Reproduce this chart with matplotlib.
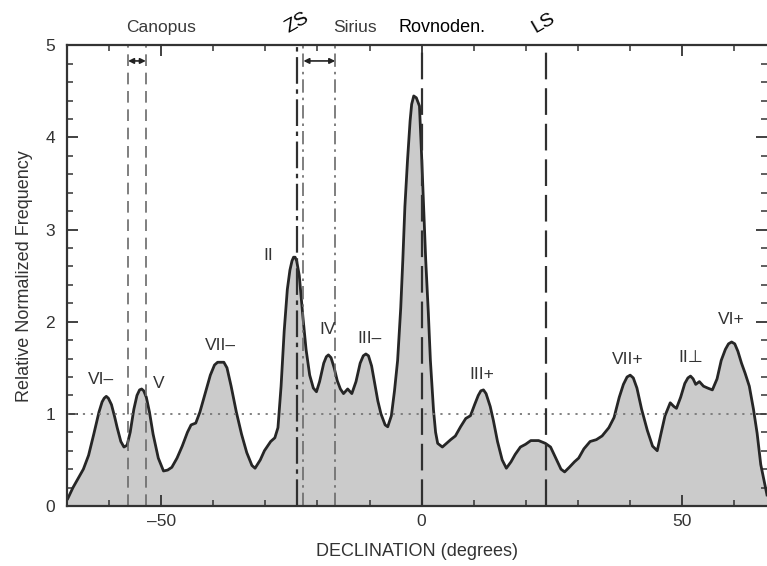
import numpy as np
import matplotlib
matplotlib.use("Agg")
import matplotlib.pyplot as plt
from matplotlib.ticker import MultipleLocator

plt.rcParams["font.family"] = ["Liberation Sans", "DejaVu Sans"]

# ==========================
# DATA
# ==========================
decl = [-68.0, -67.0, -66.0, -65.0, -64.0, -63.0, -62.0, -61.4, -61.0, -60.6,
        -60.2, -59.6, -59.0, -58.5, -57.8, -57.2, -56.6, -56.0, -55.3, -54.7,
        -54.2, -53.8, -53.4, -52.9, -52.3, -51.6, -50.6, -49.6, -48.8, -48.0,
        -47.0, -46.0, -45.0, -44.3, -43.4, -42.6, -41.6, -40.6, -39.8, -39.2,
        -38.0, -37.4, -36.6, -35.6, -34.6, -33.6, -32.6, -32.0, -31.0, -30.2,
        -29.0, -28.2, -27.6, -27.0, -26.4, -25.8, -25.3, -24.9, -24.6, -24.3,
        -24.0, -23.5, -22.8, -22.2, -21.5, -20.8, -20.2, -19.6, -18.8, -18.3,
        -17.9, -17.4, -16.8, -16.2, -15.6, -15.0, -14.2, -13.4, -12.6, -11.8,
        -11.2, -10.7, -10.2, -9.6, -9.0, -8.4, -7.8, -7.0, -6.5, -5.8,
        -5.2, -4.6, -4.0, -3.6, -3.2, -2.7, -2.2, -1.9, -1.5, -1.0,
        -0.4, 0.0, 0.4, 0.8, 1.3, 1.7, 2.3, 2.7, 3.1, 4.0,
        4.8, 5.6, 6.5, 7.5, 8.5, 9.4, 10.2, 10.9, 11.4, 11.9,
        12.4, 13.2, 13.8, 14.6, 15.5, 16.3, 17.2, 18.0, 19.0, 20.0,
        21.0, 22.5, 23.8, 24.8, 25.8, 26.8, 27.5, 28.4, 29.4, 30.2,
        31.2, 32.4, 33.6, 34.7, 36.0, 37.0, 38.0, 38.8, 39.5, 40.1,
        40.7, 41.4, 42.3, 43.4, 44.4, 45.3, 46.0, 46.8, 47.8, 48.5,
        49.0, 49.8, 50.6, 51.2, 51.7, 52.2, 52.7, 53.4, 54.2, 55.0,
        55.9, 56.8, 57.6, 58.4, 59.0, 59.6, 60.2, 60.8, 61.5, 62.2,
        63.0, 63.8, 64.5, 65.2, 66.4]
freq = [0.08, 0.20, 0.30, 0.40, 0.55, 0.78, 1.02, 1.13, 1.17, 1.19,
        1.17, 1.10, 0.97, 0.85, 0.70, 0.64, 0.66, 0.80, 1.05, 1.20,
        1.26, 1.27, 1.25, 1.18, 1.02, 0.78, 0.52, 0.38, 0.39, 0.42,
        0.52, 0.65, 0.80, 0.88, 0.90, 1.02, 1.22, 1.42, 1.53, 1.56,
        1.56, 1.50, 1.30, 1.02, 0.78, 0.58, 0.44, 0.41, 0.50, 0.60,
        0.70, 0.74, 0.85, 1.30, 1.90, 2.35, 2.56, 2.66, 2.70, 2.70,
        2.66, 2.50, 2.05, 1.70, 1.42, 1.28, 1.24, 1.35, 1.55, 1.62,
        1.64, 1.61, 1.50, 1.36, 1.27, 1.22, 1.27, 1.22, 1.35, 1.55,
        1.63, 1.65, 1.63, 1.52, 1.33, 1.14, 1.00, 0.88, 0.86, 0.98,
        1.25, 1.58, 2.15, 2.67, 3.25, 3.75, 4.18, 4.36, 4.45, 4.43,
        4.34, 3.82, 3.25, 2.67, 2.10, 1.58, 1.04, 0.80, 0.68, 0.64,
        0.68, 0.72, 0.76, 0.86, 0.95, 0.98, 1.10, 1.20, 1.25, 1.26,
        1.22, 1.08, 0.93, 0.70, 0.50, 0.41, 0.48, 0.56, 0.64, 0.67,
        0.71, 0.71, 0.68, 0.64, 0.52, 0.40, 0.37, 0.42, 0.48, 0.52,
        0.62, 0.70, 0.72, 0.76, 0.85, 0.96, 1.18, 1.32, 1.40, 1.42,
        1.39, 1.28, 1.05, 0.82, 0.65, 0.60, 0.78, 0.98, 1.12, 1.08,
        1.06, 1.18, 1.33, 1.39, 1.41, 1.38, 1.32, 1.35, 1.30, 1.28,
        1.26, 1.38, 1.58, 1.70, 1.76, 1.78, 1.76, 1.68, 1.55, 1.44,
        1.30, 1.05, 0.79, 0.45, 0.12]

peak_labels = ["VI\u2013", "V", "VII\u2013", "II", "IV", "III\u2013",
               "III+", "VII+", "II\u22a5", "VI+"]
peak_x = [-61.6, -50.5, -38.6, -29.4, -18.0, -10.0, 11.5, 39.7, 51.8, 59.5]
peak_y = [1.37, 1.33, 1.74, 2.72, 1.92, 1.82, 1.43, 1.59, 1.61, 2.02]

canopus = [-56.4, -53.0]
sirius = [-22.7, -16.6]
zs, equinox, ls = -24.0, 0.0, 24.0

# ==========================
# PLOT
# ==========================
fig = plt.figure(figsize=(7.67, 5.66), dpi=100)
ax = fig.add_axes([0.087, 0.106, 0.913, 0.814])

ax.fill_between(decl, 0, freq, color="#cbcbcb", lw=0)
ax.plot(decl, freq, color="#262626", lw=2.0, solid_joinstyle="round")

ax.axhline(1.0, color="#777777", lw=1.3, ls=(0, (1.2, 3.2)))
for x in canopus:
    ax.axvline(x, color="#6a6a6a", lw=1.2, ls=(0, (7, 4)))
for x in sirius:
    ax.axvline(x, color="#6a6a6a", lw=1.2, ls=(0, (8, 3, 1.5, 3)))
ax.axvline(zs, color="#303030", lw=1.6, ls=(0, (12, 2.5, 2, 2.5)))
ax.axvline(equinox, color="#303030", lw=1.6, ls=(0, (12, 4)))
ax.axvline(ls, color="#303030", lw=1.6, ls=(0, (12, 4)))

arrow = dict(arrowstyle="<|-|>", color="#222222", lw=1.2,
             shrinkA=0, shrinkB=0, mutation_scale=8)
ax.annotate("", xy=(canopus[0], 4.83), xytext=(canopus[1], 4.83), arrowprops=arrow)
ax.annotate("", xy=(sirius[0], 4.83), xytext=(sirius[1], 4.83), arrowprops=arrow)

for lab, x, y in zip(peak_labels, peak_x, peak_y):
    ax.text(x, y, lab, ha="center", va="center", fontsize=12.5, color="#333333")

# labels above the frame
ax.text(-50.1, 5.19, "Canopus", ha="center", va="center", fontsize=12.5, color="#3a3a3a")
ax.text(-12.7, 5.19, "Sirius", ha="center", va="center", fontsize=12.5, color="#3a3a3a")
ax.text(4.0, 5.19, "Rovnoden.", ha="center", va="center", fontsize=13, color="black")
ax.text(-24.0, 5.24, "ZS", ha="center", va="center", fontsize=14, color="black", rotation=30)
ax.text(23.4, 5.24, "LS", ha="center", va="center", fontsize=14, color="black", rotation=30)

ax.set_xlim(-68.2, 66.4)
ax.set_ylim(0, 5)
ax.xaxis.set_major_locator(MultipleLocator(50))
ax.xaxis.set_minor_locator(MultipleLocator(10))
ax.yaxis.set_major_locator(MultipleLocator(1))
ax.yaxis.set_minor_locator(MultipleLocator(0.2))
ax.tick_params(which="both", direction="in", top=True, right=True,
               labelsize=12.5, labelcolor="#333333", color="#333333")
ax.tick_params(which="major", length=8, width=1.3)
ax.tick_params(which="minor", length=4.5, width=1.1)
ax.tick_params(axis="y", which="major", pad=8.5)
ax.tick_params(axis="x", which="major", pad=5.5)
ax.xaxis.set_major_formatter(lambda v, p: f"{v:.0f}".replace("-", "\u2013"))
for side in ["left", "bottom", "top"]:
    ax.spines[side].set_linewidth(1.6)
    ax.spines[side].set_color("#333333")
ax.spines["right"].set_visible(False)

ax.set_xlabel("DECLINATION (degrees)", fontsize=13, color="#333333", labelpad=10)
ax.set_ylabel("Relative Normalized Frequency", fontsize=13, color="#333333", labelpad=9)

fig.savefig("out.png", dpi=100)
